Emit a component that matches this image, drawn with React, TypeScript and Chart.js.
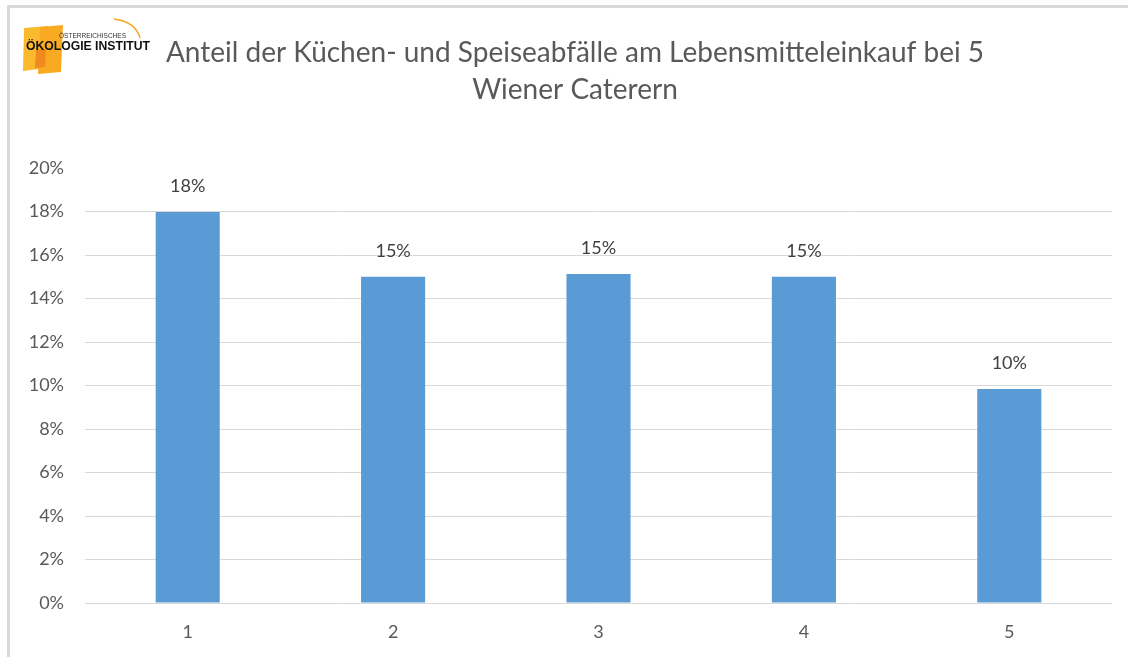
import React, { useEffect, useRef } from "react";
import { Chart, registerables } from "chart.js";

Chart.register(...registerables);

const titleLines = [
  "Anteil der Küchen- und Speiseabfälle am Lebensmitteleinkauf bei 5",
  "Wiener Caterern",
];
const categories = ["1", "2", "3", "4", "5"];
const shares = [17.98, 15.0, 15.13, 15.0, 9.84];
const shareLabels = ["18%", "15%", "15%", "15%", "10%"];
const yMax = 20;
const yStep = 2;

const FONT = "Lato, 'Open Sans', sans-serif";

const titlePlugin = {
  id: "customTitle",
  afterDraw(chart: any) {
    const ctx = chart.ctx;
    ctx.save();
    ctx.font = `28px ${FONT}`;
    ctx.fillStyle = "#595959";
    ctx.textAlign = "center";
    ctx.textBaseline = "middle";
    ctx.fillText(titleLines[0], 575, 53);
    ctx.fillText(titleLines[1], 575, 90);
    ctx.restore();
  },
};

const labelPlugin = {
  id: "barLabels",
  afterDatasetsDraw(chart: any) {
    const ctx = chart.ctx;
    const meta = chart.getDatasetMeta(0);
    ctx.save();
    ctx.font = `18px ${FONT}`;
    ctx.fillStyle = "#404040";
    ctx.textAlign = "center";
    ctx.textBaseline = "middle";
    meta.data.forEach((bar: any, i: number) => {
      ctx.fillText(shareLabels[i], bar.x, bar.y - 26);
    });
    ctx.restore();
  },
};

function Logo() {
  return (
    <svg
      width="160"
      height="80"
      style={{ position: "absolute", left: 0, top: 0 }}
    >
      <polygon points="24,28 48,26 46,68 23,71" fill="#FBB92E" />
      <polygon points="40,27 63,25 61,72 38,74" fill="#F9AA22" />
      <polygon points="36,50 46,49 45,67 35,68" fill="#F08A1E" />
      <path d="M114,19 Q136,22 140,38" stroke="#F5A623" strokeWidth="1.5" fill="none" />
      <text
        x="59"
        y="38"
        fontFamily="'Liberation Sans', Arial, sans-serif"
        fontSize="8"
        fill="#333"
        textLength="67"
        lengthAdjust="spacingAndGlyphs"
      >
        ÖSTERREICHISCHES
      </text>
      <text
        x="26"
        y="50"
        fontFamily="'Liberation Sans', Arial, sans-serif"
        fontSize="12"
        fontWeight="bold"
        fill="#111"
        textLength="124"
        lengthAdjust="spacingAndGlyphs"
      >
        ÖKOLOGIE INSTITUT
      </text>
    </svg>
  );
}

export default function App() {
  const canvasRef = useRef<HTMLCanvasElement | null>(null);

  useEffect(() => {
    if (!canvasRef.current) return;
    const chart = new Chart(canvasRef.current, {
      type: "bar",
      data: {
        labels: categories,
        datasets: [
          {
            data: shares,
            backgroundColor: "#5B9BD5",
            borderWidth: 0,
            categoryPercentage: 1,
            barPercentage: 0.312,
          },
        ],
      },
      options: {
        animation: false,
        responsive: false,
        devicePixelRatio: 1,
        layout: { padding: { top: 168, right: 16, left: 0, bottom: 0 } },
        plugins: {
          legend: { display: false },
          title: { display: false },
          tooltip: { enabled: false },
        },
        scales: {
          x: {
            grid: { display: false },
            border: { display: false },
            ticks: {
              color: "#595959",
              font: { family: FONT, size: 18 },
              padding: 10,
            },
            afterFit(scale: any) {
              scale.height = 54;
            },
          },
          y: {
            min: 0,
            max: yMax,
            border: { display: false },
            grid: {
              drawTicks: false,
              lineWidth: 1,
              color: (c: any) =>
                c.tick && c.tick.value === yMax ? "rgba(0,0,0,0)" : "#d9d9d9",
            },
            ticks: {
              stepSize: yStep,
              color: "#595959",
              font: { family: FONT, size: 18 },
              padding: 21,
              callback: (v: any) => `${v}%`,
            },
            afterFit(scale: any) {
              scale.width = 85;
            },
          },
        },
      },
      plugins: [titlePlugin, labelPlugin],
    });
    return () => chart.destroy();
  }, []);

  return (
    <div
      style={{
        position: "fixed",
        left: 0,
        top: 0,
        width: 1128,
        height: 657,
        background: "#fff",
        overflow: "hidden",
      }}
    >
      <canvas
        ref={canvasRef}
        width={1128}
        height={657}
        style={{ position: "absolute", left: 0, top: 0, width: 1128, height: 657 }}
      />
      <div
        style={{
          position: "absolute",
          left: 7,
          top: 5,
          width: 1130,
          height: 660,
          borderTop: "3px solid #d9d9d9",
          borderLeft: "3px solid #d9d9d9",
          boxSizing: "border-box",
          pointerEvents: "none",
        }}
      />
      <Logo />
    </div>
  );
}
